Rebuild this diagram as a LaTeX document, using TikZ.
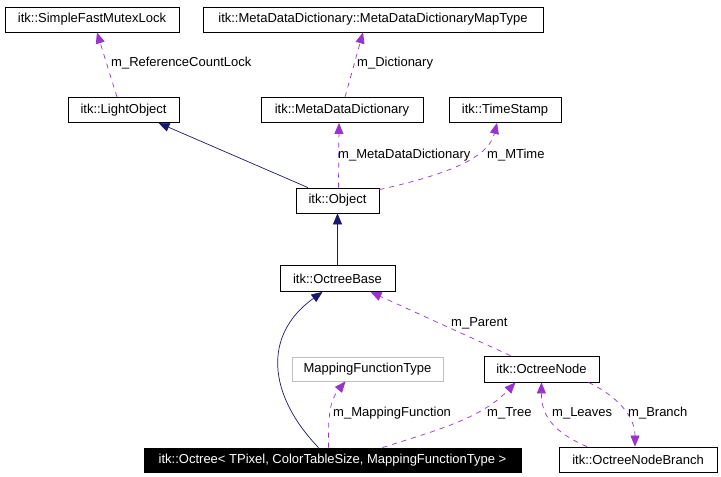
\documentclass[tikz,border=0pt]{standalone}
\usepackage{fontspec}
\setmainfont{Liberation Sans}
\usetikzlibrary{arrows.meta}
\definecolor{inh}{HTML}{191970}
\definecolor{usg}{HTML}{9A32CD}
\begin{document}
\begin{tikzpicture}[x=1pt,y=-1pt,
  box/.style={draw=black,line width=0.8pt,fill=white,inner sep=0pt,minimum height=25pt,
    font=\fontsize{13}{15}\selectfont,text=black},
  gbox/.style={box,draw=black!25},
  bbox/.style={box,fill=black,text=white},
  lbl/.style={font=\fontsize{13}{15}\selectfont,inner sep=0pt,anchor=west,text=black},
  inhe/.style={draw=inh,line width=0.7pt,-{Triangle[length=11pt,width=9pt]},color=inh},
  dep/.style={draw=usg,line width=0.7pt,dash pattern=on 5pt off 5pt,-{Triangle[length=11pt,width=9pt]},color=usg}]
\useasboundingbox (0,0) rectangle (721,477);
\fill[white] (0,0) rectangle (721,477);
% nodes
\node[box,minimum width=174pt] (mutex) at (92,19.5) {itk::SimpleFastMutexLock};
\node[box,minimum width=340pt] (maptype) at (373,19.5) {itk::MetaDataDictionary::MetaDataDictionaryMapType};
\node[box,minimum width=111pt] (light) at (123.5,110) {itk::LightObject};
\node[box,minimum width=162pt] (mdd) at (342,110) {itk::MetaDataDictionary};
\node[box,minimum width=112pt] (ts) at (505,110) {itk::TimeStamp};
\node[box,minimum width=83pt] (obj) at (337.5,200.5) {itk::Object};
\node[box,minimum width=115pt,minimum height=26pt] (base) at (337.5,278.5) {itk::OctreeBase};
\node[gbox,minimum width=151pt,minimum height=24pt] (mft) at (367.5,369) {MappingFunctionType};
\node[box,minimum width=115pt,minimum height=26pt] (onode) at (541.5,369) {itk::OctreeNode};
\node[bbox,minimum width=377pt,minimum height=24pt] (octree) at (332.5,460) {itk::Octree{\char`\<} TPixel, ColorTableSize, MappingFunctionType {\char`\>}};
\node[box,minimum width=158pt] (branch) at (638,459.5) {itk::OctreeNodeBranch};
% connectors
\draw[dep] ([xshift=-6.5pt]light.north) -- ([xshift=5pt]mutex.south);
\node[lbl] (l1) at (111,63) {m\_ReferenceCountLock};
\draw[dep] ([xshift=3pt]mdd.north) -- ([xshift=-10pt]maptype.south);
\node[lbl] (l2) at (357,63) {m\_Dictionary};
\draw[inhe] ([xshift=-29.5pt]obj.north) -- ([xshift=35pt]light.south);
\draw[dep] ([xshift=1pt]obj.north) -- ([xshift=-3pt]mdd.south);
\node[lbl] (l3) at (338,155) {m\_MetaDataDictionary};
\draw[dep] ([yshift=-2pt]obj.north east) .. controls (440,176) and (488,160) .. ([xshift=-8pt]ts.south);
\node[lbl] (l4) at (487,155) {m\_MTime};
\draw[inhe] (base.north) -- (obj.south);
\draw[inhe] ([xshift=-14pt]octree.north) .. controls (268,395) and (262,335) .. ([xshift=-15pt]base.south);
\draw[dep] ([xshift=-31pt]onode.north) -- ([xshift=33pt]base.south);
\node[lbl] (l5) at (451,323) {m\_Parent};
\draw[dep] ([xshift=-4pt]octree.north) .. controls (328,415) and (330,400) .. ([xshift=-22pt]mft.south);
\node[lbl] (l6) at (333,413) {m\_MappingFunction};
\draw[dep] ([xshift=50pt]octree.north) .. controls (430,432) and (480,420) .. ([xshift=-26pt]onode.south);
\node[lbl] (l7) at (487,413) {m\_Tree};
\draw[dep] ([xshift=-51pt]branch.north) .. controls (560,435) and (541,420) .. (onode.south);
\node[lbl] (l8) at (552,413) {m\_Leaves};
\draw[dep] ([xshift=47pt]onode.south) .. controls (615,395) and (635,415) .. ([xshift=-3pt]branch.north);
\node[lbl] (l9) at (628,413) {m\_Branch};
\end{tikzpicture}
\end{document}
